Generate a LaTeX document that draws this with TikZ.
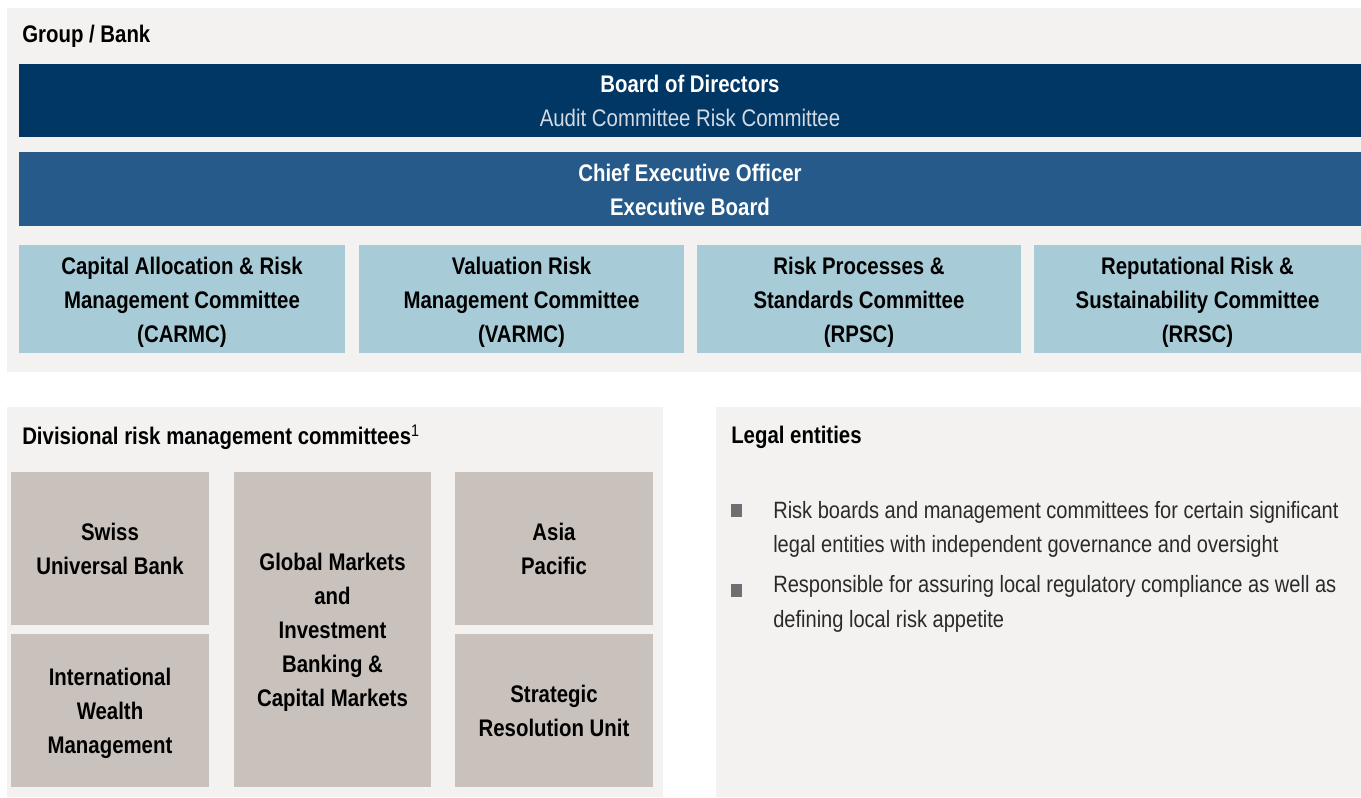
\documentclass[tikz,border=0pt]{standalone}
\usepackage{fontspec}
\setmainfont{Liberation Sans}[FakeStretch=0.85]
\usetikzlibrary{fit}
\definecolor{panelgray}{HTML}{F3F2F1}
\definecolor{navy}{HTML}{003764}
\definecolor{steel}{HTML}{255A8A}
\definecolor{lightblue}{HTML}{A8CCD7}
\definecolor{warmgray}{HTML}{C9C1BC}
\definecolor{subtext}{HTML}{D3DAE4}
\definecolor{bulletgray}{HTML}{6E6E73}
\definecolor{bodytext}{HTML}{2A2A2A}
\tikzset{
  panel/.style={fill=panelgray, draw=none, inner sep=0pt},
  shapebox/.style={draw=none, inner sep=0pt},
  boardbox/.style={shapebox, fill=navy},
  ceobox/.style={shapebox, fill=steel},
  combox/.style={shapebox, fill=lightblue},
  divbox/.style={shapebox, fill=warmgray},
  boxtext/.style={inner sep=0pt, anchor=center, align=center, font=\fontsize{18}{25.5}\selectfont\bfseries, text=black},
  lowtext/.style={yshift=-2.5pt},
  heading/.style={anchor=west, inner sep=0pt, font=\fontsize{18}{25.5}\selectfont\bfseries, text=black},
  bulletsq/.style={fill=bulletgray, draw=none, minimum width=8.25pt, minimum height=9.75pt, inner sep=0pt},
  bullettext/.style={anchor=west, inner sep=0pt, align=left, text=bodytext, font=\fontsize{17.7}{26}\selectfont}
}
\begin{document}
\begin{tikzpicture}[x=0.75pt,y=-0.75pt]
\useasboundingbox[fill=white] (0,0) rectangle (1361,797);
% panels
\node[panel, fit={(7,8) (1361,372)}] (toppanel) {};
\node[panel, fit={(7,407) (663,797)}] (divpanel) {};
\node[panel, fit={(716,407) (1361,797)}] (legalpanel) {};
% headings
\node[heading] (grouphead) at (22,36) {Group / Bank};
\node[heading] (divhead) at (22,437) {Divisional risk management committees\textsuperscript{\mdseries 1}};
\node[heading] (legalhead) at (731,437) {Legal entities};
% board and CEO
\node[boardbox, fit={(19,64) (1361,137)}] (board) {};
\node[boxtext, text=white] (boardtxt) at (board.center) {Board of Directors\\{\mdseries\color{subtext}Audit Committee Risk Committee}};
\node[ceobox, fit={(19,152) (1361,226)}] (ceo) {};
\node[boxtext, text=white, yshift=-1pt] (ceotxt) at (ceo.center) {Chief Executive Officer\\Executive Board};
% committees
\node[combox, fit={(19,245) (345,353)}] (carmc) {};
\node[boxtext, lowtext] (carmctxt) at (carmc.center) {Capital Allocation \& Risk\\Management Committee\\(CARMC)};
\node[combox, fit={(359,245) (684,353)}] (varmc) {};
\node[boxtext, lowtext] (varmctxt) at (varmc.center) {Valuation Risk\\Management Committee\\(VARMC)};
\node[combox, fit={(697,245) (1021,353)}] (rpsc) {};
\node[boxtext, lowtext] (rpsctxt) at (rpsc.center) {Risk Processes \&\\Standards Committee\\(RPSC)};
\node[combox, fit={(1034,245) (1361,353)}] (rrsc) {};
\node[boxtext, lowtext] (rrsctxt) at (rrsc.center) {Reputational Risk \&\\Sustainability Committee\\(RRSC)};
% divisions
\node[divbox, fit={(11,472) (209,625)}] (sub) {};
\node[boxtext] (subtxt) at (sub.center) {Swiss\\Universal Bank};
\node[divbox, fit={(11,634) (209,787)}] (iwm) {};
\node[boxtext, yshift=-2.25pt] (iwmtxt) at (iwm.center) {International\\Wealth\\Management};
\node[divbox, fit={(234,472) (431,787)}] (gm) {};
\node[boxtext, yshift=-2.25pt] (gmtxt) at (gm.center) {Global Markets\\and\\Investment\\Banking \&\\Capital Markets};
\node[divbox, fit={(455,472) (653,625)}] (apac) {};
\node[boxtext] (apactxt) at (apac.center) {Asia\\Pacific};
\node[divbox, fit={(455,634) (653,787)}] (sru) {};
\node[boxtext] (srutxt) at (sru.center) {Strategic\\Resolution Unit};
% bullets
\node[bulletsq] (b1) at (736.5,510.5) {};
\node[bulletsq] (b2) at (736.5,590.5) {};
\node[bullettext] (t1) at (773,529.5) {Risk boards and management committees for certain significant\\legal entities with independent governance and oversight};
\node[bullettext] (t2) at (773,604) {Responsible for assuring local regulatory compliance as well as\\defining local risk appetite};
\end{tikzpicture}
\end{document}
